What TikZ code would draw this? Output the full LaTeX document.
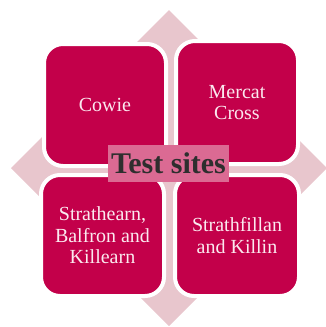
\documentclass[tikz,border=0pt]{standalone}
\usepackage{fontspec}
\setmainfont{Liberation Serif}
\definecolor{crimson}{HTML}{C3004A}
\definecolor{arrowpink}{HTML}{E8C6CD}
\definecolor{labelpink}{HTML}{DB6A93}
\definecolor{labeltext}{HTML}{2E2E2E}
\definecolor{boxtext}{HTML}{FBE9EF}
\begin{document}
\begin{tikzpicture}[x=1pt,y=-1pt,
  sitebox/.style={rectangle, rounded corners=19pt, fill=crimson, draw=white,
    line width=4pt, inner sep=0pt, align=center, text=boxtext,
    font=\fontsize{20}{21.5}\selectfont},
  sitelabel/.style={rectangle, fill=labelpink, inner sep=0pt, text=labeltext,
    minimum width=121pt, minimum height=37pt,
    font=\fontsize{30}{32}\selectfont\bfseries}]
\useasboundingbox (0,0) rectangle (325,327);
% four-way pointer behind the grid
\fill[arrowpink] (169,10) -- (327,168) -- (169,326) -- (11,168) -- cycle;
% the four test sites
\node[sitebox, minimum width=122pt, minimum height=122pt] (cowie) at (105,105) {Cowie};
\node[sitebox, minimum width=122pt, minimum height=123pt] (mercat) at (237,102.5) {Mercat\\Cross};
\node[sitebox, minimum width=123pt, minimum height=121pt] (strathearn) at (102.5,235.5) {Strathearn,\\Balfron and\\Killearn};
\node[sitebox, minimum width=124pt, minimum height=121pt] (strathfillan) at (237,235.5) {Strathfillan\\and Killin};
% centre caption
\node[sitelabel] (title) at (168.5,163.5) {Test sites};
\end{tikzpicture}
\end{document}
